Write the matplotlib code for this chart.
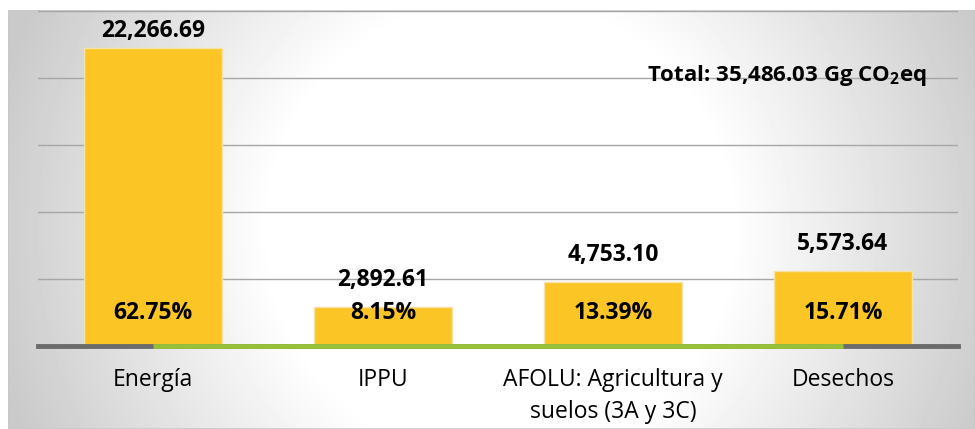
"""
Emisiones GEI por sector (Gg CO2eq)
"""
import numpy as np
import matplotlib.pyplot as plt
from matplotlib.patches import Rectangle
import matplotlib.transforms as mtransforms

categories = ['Energía', 'IPPU', 'AFOLU: Agricultura y\nsuelos (3A y 3C)', 'Desechos']
values = [22266.69, 2892.61, 4753.10, 5573.64]
shares = ['62.75%', '8.15%', '13.39%', '15.71%']
total_label = 'Total: 35,486.03 Gg CO$_\\mathbf{2}$eq'

bar_color = '#FBC526'
green = '#97C13A'
font = 'Open Sans'

plt.rcParams['font.family'] = [font, 'DejaVu Sans']
plt.rcParams['mathtext.fontset'] = 'custom'
plt.rcParams['mathtext.rm'] = font
plt.rcParams['mathtext.bf'] = font + ':bold'

W, H = 975, 429
fig = plt.figure(figsize=(W / 100, H / 100), dpi=100)

# background frame with radial gradient
bg = fig.add_axes([8 / W, 0, (W - 8) / W, (H - 10) / H])
bw, bh = W - 8, H - 10
xx, yy = np.meshgrid(np.arange(bw), np.arange(bh))
r = np.hypot(xx - 492, yy - 220)
t = np.clip((r - 230) / (520 - 230), 0, 1)
shade = 1 - 0.21 * t
bg.imshow(shade, cmap='gray', vmin=0, vmax=1, aspect='auto',
          extent=[0, bw, bh, 0], interpolation='bilinear')
bg.add_patch(Rectangle((0, 0), bw, bh, fill=False, edgecolor='#C8C8C8', linewidth=1.2))
bg.set_xlim(0, bw)
bg.set_ylim(bh, 0)
bg.axis('off')

# main chart
ax = fig.add_axes([38 / W, (H - 346) / H, 920 / W, 335 / H])
ax.patch.set_alpha(0)
x = np.arange(len(categories))
ax.bar(x, values, width=0.6, color=bar_color, edgecolor='#F7E2A6', linewidth=1, zorder=3)
ax.set_xlim(-0.5, len(categories) - 0.5)
ax.set_ylim(0, 25000)
ax.set_yticks(np.arange(0, 25001, 5000))
ax.yaxis.grid(True, color='#A6A6A6', linewidth=1)
ax.set_axisbelow(True)
ax.tick_params(left=False, labelleft=False, bottom=False)
for s in ax.spines.values():
    s.set_visible(False)

# baseline: gray axis with green zero line between first and last category
ax.axhline(0, color='#6B6B6B', linewidth=3.5, zorder=4, clip_on=False)
ax.plot(x, np.zeros(len(x)), color=green, linewidth=3.5, zorder=5,
        solid_capstyle='butt', clip_on=False)

ax.set_xticks(x)
ax.set_xticklabels(categories, fontsize=16.5, linespacing=1.45, va='top')
ax.tick_params(axis='x', pad=12)

blend = mtransforms.blended_transform_factory(ax.transData, ax.transAxes)
for xi, v, s in zip(x, values, shares):
    off = 12 if v > 20000 else 19.5
    ax.annotate(f'{v:,.2f}', (xi, v), xytext=(0, off), textcoords='offset points',
                ha='center', va='center', fontsize=16.5, fontweight='bold', zorder=6)
    ax.text(xi, 0.099, s, transform=blend, ha='center', va='center',
            fontsize=16.5, fontweight='bold', zorder=6)

fig.text(787 / W, 1 - 76 / H, total_label, ha='center', va='center',
         fontsize=16, fontweight='bold')

fig.savefig('out.png', dpi=100)
print('Saved: out.png')
